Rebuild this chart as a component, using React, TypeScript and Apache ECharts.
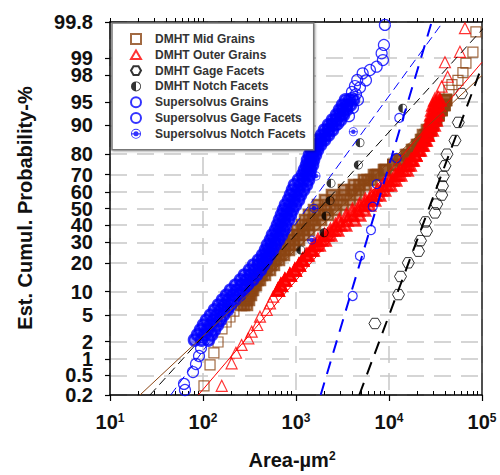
import React, { useEffect, useRef } from "react";
import * as echarts from "echarts";

// ---------- axis ticks ----------
const yTickPct = [0.2, 0.5, 1, 2, 5, 10, 20, 30, 40, 50, 60, 70, 80, 90, 95, 98, 99, 99.8];
const yTickLabels = ["0.2", "0.5", "1", "2", "5", "10", "20", "30", "40", "50", "60", "70", "80", "90", "95", "98", "99", "99.8"];
// label drawing order (first two and last two far apart, so none is dropped)
const yLabelOrder = [0.2, 50, 0.5, 1, 2, 5, 10, 20, 30, 40, 60, 70, 80, 90, 95, 98, 99, 99.8];
const xDecades = [1, 2, 3, 4, 5];

// ---------- DMHT Mid Grains ----------
const midLowArea = [102.5, 119, 131, 145, 160, 177, 195, 215];
const midLowPct = [0.31, 0.79, 1.29, 1.97, 3.15, 3.99, 4.7, 5.68];
const midBandPct = [6.82, 7.9, 9.09, 10.42, 11.88, 13.5, 15.24, 17.13, 19.16, 21.33, 23.64, 26.1, 28.67, 31.35, 34.13, 36.99, 39.94, 42.97, 46.02, 49.08, 52.15, 55.21, 58.25, 61.23, 64.17, 67.0, 69.74, 72.38, 74.89, 77.28, 79.55, 81.67, 83.65, 85.48, 87.16, 88.71, 90.13, 91.4, 92.55, 93.58, 94.49, 95.3];
const midBandLeft = [256, 276, 297, 320, 345, 371, 400, 441, 487, 538, 609, 689, 760, 839, 927, 1025, 1160, 1250, 1380, 1561, 1724, 2050, 2437, 3279, 4200, 5378, 6887, 8818, 11170, 12810, 15230, 17670, 19990, 22080, 23200, 25610, 28270, 32000, 34000, 36650, 39500, 40970];
const midBandCenter = [275.8, 293.5, 312.1, 332.3, 357.9, 389.9, 430.5, 481.8, 537.8, 601.9, 681.3, 760.3, 851.3, 949.7, 1064, 1204, 1362, 1523, 1746, 2050, 2350, 2794, 3279, 3953, 4818, 5873, 7236, 9039, 11180, 13290, 15810, 18110, 20500, 22630, 24690, 26910, 28980, 31990, 34060, 36690, 38550, 40970];
const midBandRight = [297, 312, 328, 345, 371, 410, 464, 525, 579, 656, 742, 839, 950, 1077, 1219, 1380, 1600, 1857, 2208, 2691, 3199, 3804, 4413, 4753, 5513, 6395, 7603, 9265, 11170, 13800, 16400, 18560, 21010, 23200, 26250, 28270, 29700, 32000, 34000, 36650, 39500, 40970];
const midTopArea = [44130, 47530, 55130, 62380, 67190, 79880, 86030];
const midTopPct = [96.6, 97.2, 97.6, 98.2, 98.76, 99.21, 99.68];

// ---------- DMHT Outer Grains ----------
const outerLowArea = [159, 203, 226, 260, 307, 334, 383, 410, 484, 525, 569];
const outerLowPct = [0.31, 0.845, 1.3, 1.76, 2.26, 2.87, 3.61, 4.75, 5.87, 7.17, 8.68];
const outerBandPct = [10.42, 11.88, 13.5, 15.24, 17.13, 19.16, 21.33, 23.64, 26.1, 28.67, 31.35, 34.13, 36.99, 39.94, 42.97, 46.02, 49.08, 52.15, 55.21, 58.25, 61.23, 64.17, 67.0, 69.74, 72.38, 74.89, 77.28, 79.55, 81.67, 83.65, 85.48, 87.16, 88.71, 90.13, 91.4, 92.55, 93.58, 94.49, 95.3];
const outerBandLeft = [640, 689, 760, 860, 973, 1077, 1175, 1281, 1450, 1561, 1724, 2025, 2350, 2660, 2930, 3490, 4050, 4810, 5580, 6475, 7510, 8710, 10120, 11740, 13130, 15230, 17240, 19270, 20500, 22080, 23780, 25610, 25610, 26910, 27580, 28270, 28980, 29700, 31210];
const outerBandCenter = [639.5, 688.7, 760.3, 860.3, 975.5, 1077, 1175, 1313, 1486, 1661, 1880, 2181, 2561, 3010, 3532, 4097, 4699, 5452, 6238, 7160, 8188, 9497, 10910, 12500, 14320, 16000, 17670, 19280, 21010, 22630, 24370, 25940, 27250, 28640, 29700, 30450, 31210, 31990, 33230];
const outerBandRight = [640, 689, 760, 860, 973, 1077, 1175, 1346, 1523, 1767, 2050, 2350, 2790, 3400, 4250, 4810, 5450, 6160, 6970, 7890, 8930, 10380, 11740, 13290, 15610, 16820, 18110, 19270, 21540, 23200, 24980, 26250, 28980, 30450, 31990, 32790, 33620, 34460, 35320];
const outerTopArea = [33620, 36800, 42700, 39970, 57920, 65550];
const outerTopPct = [95.8, 97.0, 97.9, 98.8, 99.22, 99.73];

// ---------- DMHT Gage Facets ----------
const gageArea = [7059, 12650, 13290, 16120, 20760, 21810, 25310, 24690, 31210, 32580, 36880, 37610, 38360, 39970, 42000, 51190, 55610, 60340];
const gagePct = [3.8, 9.2, 14.7, 20.1, 25.5, 31.0, 36.4, 41.8, 47.3, 52.7, 58.2, 63.6, 69.0, 74.5, 79.9, 85.3, 90.8, 96.2];

// ---------- DMHT Notch Facets ----------
const notchArea = [195, 1124, 2000, 2101, 2320, 2378, 4677, 4872, 14040];
const notchPct = [6.2, 26.1, 35.4, 45.4, 54.8, 65.1, 74.9, 84.5, 93.9];

// ---------- Supersolvus Grains ----------
const ssLowArea = [64.0, 62.5, 78.1, 84.1, 90.6, 95.2];
const ssLowPct = [0.255, 0.34, 0.58, 0.82, 1.14, 1.57];
const ssBandPct = [2.12, 2.55, 3.04, 3.61, 4.26, 5.01, 5.87, 6.82, 7.9, 9.09, 10.42, 11.88, 13.5, 15.24, 17.13, 19.16, 21.33, 23.64, 26.1, 28.67, 31.35, 34.13, 36.99, 39.94, 42.97, 46.02, 49.08, 52.15, 55.21, 58.25, 61.23, 64.17, 67.0, 69.74, 72.38, 74.89, 77.28, 79.55, 81.67, 83.65, 85.48, 87.16, 88.71, 90.13, 91.4, 92.55, 93.58, 94.49, 95.3];
const ssBandLeft = [81.0, 87.3, 94.0, 101.2, 109.1, 120.4, 132.9, 146.8, 162.0, 178.9, 197.5, 223.6, 253.1, 279.4, 316.2, 349.1, 395.3, 436.3, 469.9, 493.7, 531.7, 558.7, 601.9, 632.4, 664.5, 698.2, 733.6, 771.0, 830.6, 873.0, 917.2, 963.6, 1064, 1175, 1234, 1297, 1329, 1397, 1468, 1581, 1703, 1880, 2025, 2236, 2469, 2725, 2935, 3162, 3406];
const ssBandCenter = [96.4, 103.8, 111.8, 120.4, 129.7, 141.4, 156.1, 170.3, 188.0, 210.1, 232.0, 259.4, 293.5, 324.1, 362.0, 395.3, 436.3, 475.3, 511.9, 545.2, 587.3, 623.8, 664.5, 698.2, 741.7, 779.3, 818.8, 873.0, 940.0, 987.7, 1051, 1118, 1204, 1281, 1329, 1397, 1432, 1505, 1581, 1703, 1857, 2050, 2236, 2437, 2691, 2970, 3199, 3491, 3761];
const ssBandRight = [114.6, 123.4, 132.9, 143.2, 154.3, 166.1, 183.4, 197.5, 218.1, 246.9, 272.5, 301.0, 340.6, 376.1, 415.2, 447.2, 481.8, 518.9, 558.7, 601.9, 648.2, 698.2, 733.6, 771.0, 830.6, 873.0, 917.2, 987.7, 1064, 1118, 1204, 1297, 1362, 1397, 1432, 1505, 1543, 1620, 1703, 1834, 2025, 2236, 2469, 2660, 3010, 3241, 3491, 3855, 4152];
const ssTopArea = [2828, 3711, 3199, 4097, 3532, 4636, 3997, 4413, 4872, 5651, 3997, 4305, 4553, 5210, 6238, 7360, 8603, 8330, 8818, 9039];
const ssTopPct = [90.4, 92.3, 92.8, 94.0, 94.3, 95.3, 95.6, 96.1, 96.9, 97.6, 96.39, 97.06, 97.63, 98.15, 98.37, 98.57, 98.9, 99.17, 99.42, 99.77];

// ---------- Supersolvus Gage Facets ----------
const ssGageArea = [4070, 4870, 6400, 6680, 7370, 12100, 12900];
const ssGagePct = [8.85, 23.2, 37.0, 51.1, 64.7, 78.2, 91.9];

// ---------- Supersolvus Notch Facets ----------
const ssNotchArea = [1475, 1561, 1641, 4132];
const ssNotchPct = [31.3, 50.1, 69.2, 88.2];

// ---------- fitted lines (end points) ----------
const midFitArea = [21, 100000];
const midFitPct = [0.2, 98.0];
const outerFitArea = [89, 100000];
const outerFitPct = [0.2, 98.8];
const gageFitArea = [4790, 100000];
const gageFitPct = [0.2, 98.6];
const notchFitArea = [26.9, 119000];
const notchFitPct = [0.2, 99.8];
const ssGageFitArea = [1842, 28780];
const ssGageFitPct = [0.2, 99.8];
const ssNotchFitArea = [45, 38100];
const ssNotchFitPct = [0.2, 99.8];

// ---------- helpers ----------
function probit(pct: number): number {
  const p = pct / 100;
  const a = [-3.969683028665376e1, 2.209460984245205e2, -2.759285104469687e2, 1.38357751867269e2, -3.066479806614716e1, 2.506628277459239];
  const b = [-5.447609879822406e1, 1.615858368580409e2, -1.556989798598866e2, 6.680131188771972e1, -1.328068155288572e1];
  const c = [-7.784894002430293e-3, -3.223964580411365e-1, -2.400758277161838, -2.549671010434536, 4.374664141464968, 2.938163982698783];
  const d = [7.784695709041462e-3, 3.224671290700398e-1, 2.445134137142996, 3.754408661907416];
  const pl = 0.02425;
  if (p < pl) {
    const q = Math.sqrt(-2 * Math.log(p));
    return (((((c[0] * q + c[1]) * q + c[2]) * q + c[3]) * q + c[4]) * q + c[5]) / ((((d[0] * q + d[1]) * q + d[2]) * q + d[3]) * q + 1);
  }
  if (p <= 1 - pl) {
    const q = p - 0.5;
    const r = q * q;
    return ((((((a[0] * r + a[1]) * r + a[2]) * r + a[3]) * r + a[4]) * r + a[5]) * q) / (((((b[0] * r + b[1]) * r + b[2]) * r + b[3]) * r + b[4]) * r + 1);
  }
  const q = Math.sqrt(-2 * Math.log(1 - p));
  return -(((((c[0] * q + c[1]) * q + c[2]) * q + c[3]) * q + c[4]) * q + c[5]) / ((((d[0] * q + d[1]) * q + d[2]) * q + d[3]) * q + 1);
}
const pairs = (areas: number[], pcts: number[]) => areas.map((a, i) => [Math.log10(a), probit(pcts[i])]);

const yTickZ = yTickPct.map(probit);
const yLabelZ = yLabelOrder.map(probit);
const yMin = probit(0.2);
const yMax = probit(99.8);
const xMinor: number[] = [];
[1, 2, 3, 4].forEach((d) => {
  for (let k = 2; k <= 9; k++) xMinor.push(d + Math.log10(k));
});
const xAll = [...xMinor, ...xDecades];

const BROWN = "#8b4513";
const RED = "#ff0000";
const BLUE = "#0000ff";
const BLACK = "#000000";
const NONE = "rgba(0,0,0,0)";
const GRID = { color: "#c8c8c8", width: 1.5, type: [17, 10] as any };

const HEX = "path://M-10,0L-5,-8.66L5,-8.66L10,0L5,8.66L-5,8.66Z";
const HALF = "path://M0,-10A10,10,0,0,0,0,10Z M0,-10A10,10,0,0,1,0,10L0,8.4A8.4,8.4,0,0,0,0,-8.4Z";
const CROSSC = "path://M0,-10A10,10,0,1,1,0,10A10,10,0,1,1,0,-10Z M0,-8.2A8.2,8.2,0,1,0,0,8.2A8.2,8.2,0,1,0,0,-8.2Z M0,-5A5,5,0,1,1,0,5A5,5,0,1,1,0,-5Z M-10,-1.2L10,-1.2L10,1.2L-10,1.2Z";
const SQ_ICON = "path://M-5,-5L5,-5L5,5L-5,5Z";
const TRI_ICON = "path://M0,-5L5.5,4.5L-5.5,4.5Z";
const CIRC_ICON = "path://M0,-5A5,5,0,1,1,0,5A5,5,0,1,1,0,-5Z";

const scatter = (name: string, data: number[][], symbol: string, size: number, itemStyle: any) => ({
  name,
  type: "scatter",
  data,
  symbol,
  symbolSize: size,
  symbolKeepAspect: true,
  itemStyle,
  silent: true,
  xAxisIndex: 0,
  yAxisIndex: 0,
});
const fit = (areas: number[], pcts: number[], color: string, width: number, type: any) => ({
  type: "line",
  data: pairs(areas, pcts),
  symbol: "none",
  showSymbol: false,
  silent: true,
  clip: true,
  lineStyle: { color, width, type },
  xAxisIndex: 0,
  yAxisIndex: 0,
  z: 3,
});

const labelFont = { fontFamily: "Arial", fontWeight: "bold" as const, color: "#111" };

const option: any = {
  animation: false,
  backgroundColor: "#ffffff",
  textStyle: { fontFamily: "Arial" },
  grid: { left: 110, right: 18, top: 22, bottom: 80, containLabel: false, outerBoundsMode: "none" },
  xAxis: [
    {
      type: "value",
      min: 1,
      max: 5,
      interval: 1,
      position: "bottom",
      axisLine: { show: true, onZero: false, lineStyle: { color: BLACK, width: 1.5 } },
      axisTick: { show: true, inside: false, length: 6, lineStyle: { color: BLACK, width: 1.2 } },
      axisLabel: {
        margin: 17,
        hideOverlap: false,
        showMinLabel: true,
        showMaxLabel: true,
        formatter: (v: number) => `{b|10}{s|${Math.round(v)}}`,
        rich: {
          b: { ...labelFont, fontSize: 20, lineHeight: 20, verticalAlign: "bottom" },
          s: { ...labelFont, fontSize: 12, lineHeight: 12, verticalAlign: "top" },
        },
      },
      splitLine: { show: true, lineStyle: GRID },
    },
    {
      type: "value",
      min: 1,
      max: 5,
      position: "bottom",
      axisLine: { show: false, onZero: false },
      axisTick: { show: true, inside: true, length: 4, customValues: xMinor, lineStyle: { color: BLACK, width: 1 } },
      axisLabel: { show: false },
      splitLine: { show: false },
    },
    {
      type: "value",
      min: 1,
      max: 5,
      position: "top",
      axisLine: { show: true, onZero: false, lineStyle: { color: BLACK, width: 1.5 } },
      axisTick: { show: true, inside: false, length: 4, customValues: xAll, lineStyle: { color: BLACK, width: 1 } },
      axisLabel: { show: false },
      splitLine: { show: false },
    },
  ],
  yAxis: [
    {
      type: "value",
      min: yMin,
      max: yMax,
      position: "left",
      axisLine: { show: true, onZero: false, lineStyle: { color: BLACK, width: 1.5 } },
      axisTick: { show: true, inside: false, length: 5, customValues: yTickZ, lineStyle: { color: BLACK, width: 1.2 } },
      axisLabel: {
        customValues: yLabelZ,
        margin: 17,
        hideOverlap: false,
        showMinLabel: true,
        showMaxLabel: true,
        ...labelFont,
        fontSize: 20,
        formatter: (v: number) => {
          const i = yTickZ.findIndex((z) => Math.abs(z - v) < 1e-4);
          return i >= 0 ? yTickLabels[i] : "";
        },
      },
      splitLine: { show: true, lineStyle: GRID },
    },
    {
      type: "value",
      min: yMin,
      max: yMax,
      position: "right",
      axisLine: { show: true, onZero: false, lineStyle: { color: "#222", width: 1.5 } },
      axisTick: { show: false },
      axisLabel: { show: false },
      splitLine: { show: false },
    },
  ],
  legend: {
    show: true,
    orient: "vertical",
    left: 112,
    top: 23,
    padding: [10, 8, 10, 18],
    itemWidth: 10,
    itemHeight: 10,
    itemGap: 3.8,
    symbolKeepAspect: true,
    selectedMode: false,
    backgroundColor: "#ffffff",
    borderColor: "#777777",
    borderWidth: 1.5,
    borderRadius: 0,
    shadowColor: "rgba(0,0,0,0.35)",
    shadowBlur: 2,
    shadowOffsetX: 1,
    shadowOffsetY: 1,
    formatter: (name: string) => `{g|}${name}`,
    textStyle: {
      fontFamily: "Arial",
      fontWeight: "bold",
      fontSize: 12,
      lineHeight: 12,
      color: "#333",
      rich: { g: { width: 9, height: 12 } },
    },
    data: [
      { name: "DMHT Mid Grains", icon: SQ_ICON },
      { name: "DMHT Outer Grains", icon: TRI_ICON },
      { name: "DMHT Gage Facets" },
      { name: "DMHT Notch Facets" },
      { name: "Supersolvus Grains", icon: CIRC_ICON },
      { name: "Supersolvus Gage Facets", icon: CIRC_ICON },
      { name: "Supersolvus Notch Facets" },
    ],
  },
  graphic: [
    {
      type: "text",
      x: 25,
      y: 208,
      rotation: Math.PI / 2,
      silent: true,
      style: {
        text: "Est. Cumul. Probability-%",
        fontFamily: "Arial",
        fontWeight: "bold",
        fontSize: 20,
        fill: "#111",
        align: "center",
        verticalAlign: "middle",
        textAlign: "center",
        textVerticalAlign: "middle",
      },
    },
    {
      type: "text",
      x: 292,
      y: 460,
      silent: true,
      style: {
        text: "{a|Area-\u00b5m}{s|2}",
        align: "center",
        verticalAlign: "middle",
        textAlign: "center",
        textVerticalAlign: "middle",
        rich: {
          a: { fontFamily: "Arial", fontWeight: "bold", fontSize: 20, fill: "#111", lineHeight: 20, verticalAlign: "bottom" },
          s: { fontFamily: "Arial", fontWeight: "bold", fontSize: 12, fill: "#111", lineHeight: 12, verticalAlign: "top" },
        },
      },
    },
  ],
  series: [
    scatter("DMHT Mid Grains", [...pairs(midLowArea, midLowPct), ...pairs(midTopArea, midTopPct)], "rect", 10, {
      color: NONE,
      borderColor: BROWN,
      borderWidth: 1.2,
    }),
    scatter(
      "DMHT Mid Grains",
      [...pairs(midBandLeft, midBandPct), ...pairs(midBandCenter, midBandPct), ...pairs(midBandRight, midBandPct)],
      "rect",
      10,
      { color: "rgba(139,69,19,0.6)", borderColor: BROWN, borderWidth: 2.6 }
    ),
    scatter("DMHT Outer Grains", [...pairs(outerLowArea, outerLowPct), ...pairs(outerTopArea, outerTopPct)], "triangle", 11, {
      color: NONE,
      borderColor: RED,
      borderWidth: 1.2,
    }),
    scatter(
      "DMHT Outer Grains",
      [...pairs(outerBandLeft, outerBandPct), ...pairs(outerBandCenter, outerBandPct), ...pairs(outerBandRight, outerBandPct)],
      "triangle",
      11,
      { color: "rgba(255,0,0,0.6)", borderColor: RED, borderWidth: 2.6 }
    ),
    scatter("DMHT Gage Facets", pairs(gageArea, gagePct), HEX, 12, { color: NONE, borderColor: BLACK, borderWidth: 1 }),
    scatter("DMHT Notch Facets", pairs(notchArea, notchPct), HALF, 9, { color: BLACK, borderWidth: 0 }),
    scatter("Supersolvus Grains", [...pairs(ssLowArea, ssLowPct), ...pairs(ssTopArea, ssTopPct)], "circle", 11, {
      color: NONE,
      borderColor: BLUE,
      borderWidth: 1.2,
    }),
    scatter(
      "Supersolvus Grains",
      [...pairs(ssBandLeft, ssBandPct), ...pairs(ssBandCenter, ssBandPct), ...pairs(ssBandRight, ssBandPct)],
      "circle",
      11,
      { color: "rgba(0,0,255,0.6)", borderColor: BLUE, borderWidth: 2.6 }
    ),
    scatter("Supersolvus Gage Facets", pairs(ssGageArea, ssGagePct), "circle", 9, { color: NONE, borderColor: BLUE, borderWidth: 1.2 }),
    scatter("Supersolvus Notch Facets", pairs(ssNotchArea, ssNotchPct), CROSSC, 9, { color: BLUE, borderWidth: 0 }),
    fit(midFitArea, midFitPct, BROWN, 1, "solid"),
    fit(outerFitArea, outerFitPct, RED, 1, "solid"),
    fit(gageFitArea, gageFitPct, BLACK, 2, [13, 9]),
    fit(notchFitArea, notchFitPct, BLACK, 1, [9, 5]),
    fit(ssGageFitArea, ssGageFitPct, BLUE, 2, [13, 9]),
    fit(ssNotchFitArea, ssNotchFitPct, BLUE, 1, [9, 5]),
  ],
};

export default function App() {
  const ref = useRef<HTMLDivElement>(null);
  useEffect(() => {
    document.body.style.margin = "0";
    const chart = echarts.init(ref.current as HTMLDivElement, null, { renderer: "svg" });
    chart.setOption(option);
    return () => chart.dispose();
  }, []);
  return <div ref={ref} style={{ width: 500, height: 475 }} />;
}
